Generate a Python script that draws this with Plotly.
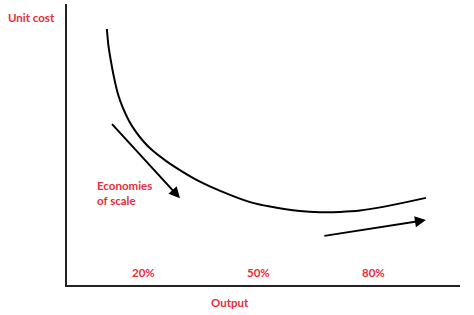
import plotly.graph_objects as go

# Long-run average cost curve (output %, unit cost in arbitrary units)
curve_output = [10.4, 10.8, 11.5, 12.3, 13.3, 14.6, 16.2, 18.0, 20.1, 22.2, 25.9, 30.3,
                34.7, 40.0, 47.8, 53.0, 60.8, 66.1, 71.3, 76.5, 82.5, 88.3, 93.7]
curve_cost = [91.1, 85.4, 79.4, 73.7, 68.0, 63.0, 58.4, 54.5, 50.9, 48.0, 44.1, 40.2,
              36.8, 33.5, 29.5, 27.9, 26.3, 25.9, 26.0, 26.5, 27.8, 29.4, 31.0]

# Arrows: (start output, start cost, end output, end cost)
arrow_economies = [11.4, 57.8, 29.5, 30.9]
arrow_diseconomies = [66.8, 17.4, 93.7, 23.1]

tick_values = [20, 50, 80]
tick_labels = ["20%", "50%", "80%"]

RED = "#e62e3a"
FONT = "Lato"

fig = go.Figure()
fig.add_trace(go.Scatter(
    x=curve_output, y=curve_cost, mode="lines",
    line=dict(color="black", width=2, shape="spline", smoothing=0.6),
    hoverinfo="skip", showlegend=False,
))

annotations = []
for a in (arrow_economies, arrow_diseconomies):
    annotations.append(dict(
        x=a[2], y=a[3], ax=a[0], ay=a[1], xref="x", yref="y", axref="x", ayref="y",
        text="", showarrow=True, arrowhead=2, arrowsize=1.1, arrowwidth=2, arrowcolor="black",
    ))

for v, t in zip(tick_values, tick_labels):
    annotations.append(dict(x=v, y=4.3, xref="x", yref="y", text="<b>%s</b>" % t,
                            showarrow=False, xanchor="center", yanchor="middle",
                            font=dict(family=FONT, size=11.5, color=RED)))

annotations.append(dict(x=-0.0916, y=0.952, xref="paper", yref="paper", text="<b>Unit cost</b>",
                        showarrow=False, xanchor="center", yanchor="middle",
                        font=dict(family=FONT, size=11.5, color=RED)))
annotations.append(dict(x=0.4148, y=-0.0605, xref="paper", yref="paper", text="<b>Output</b>",
                        showarrow=False, xanchor="center", yanchor="middle",
                        font=dict(family=FONT, size=11.5, color=RED)))
annotations.append(dict(x=7.4, y=32.6, xref="x", yref="y", text="<b>Economies<br>of scale</b>",
                        showarrow=False, xanchor="left", yanchor="middle", align="left",
                        font=dict(family=FONT, size=11.5, color=RED)))

fig.update_layout(
    width=474, height=315,
    margin=dict(l=67, r=14, t=4, b=30),
    paper_bgcolor="white", plot_bgcolor="white",
    annotations=annotations,
    xaxis=dict(range=[0, 102.6], showgrid=False, zeroline=False, showticklabels=False,
               ticks="", showline=True, linecolor="#222222", linewidth=2),
    yaxis=dict(range=[0, 100], showgrid=False, zeroline=False, showticklabels=False,
               ticks="", showline=True, linecolor="#222222", linewidth=2),
)

fig.write_html("out.html")
